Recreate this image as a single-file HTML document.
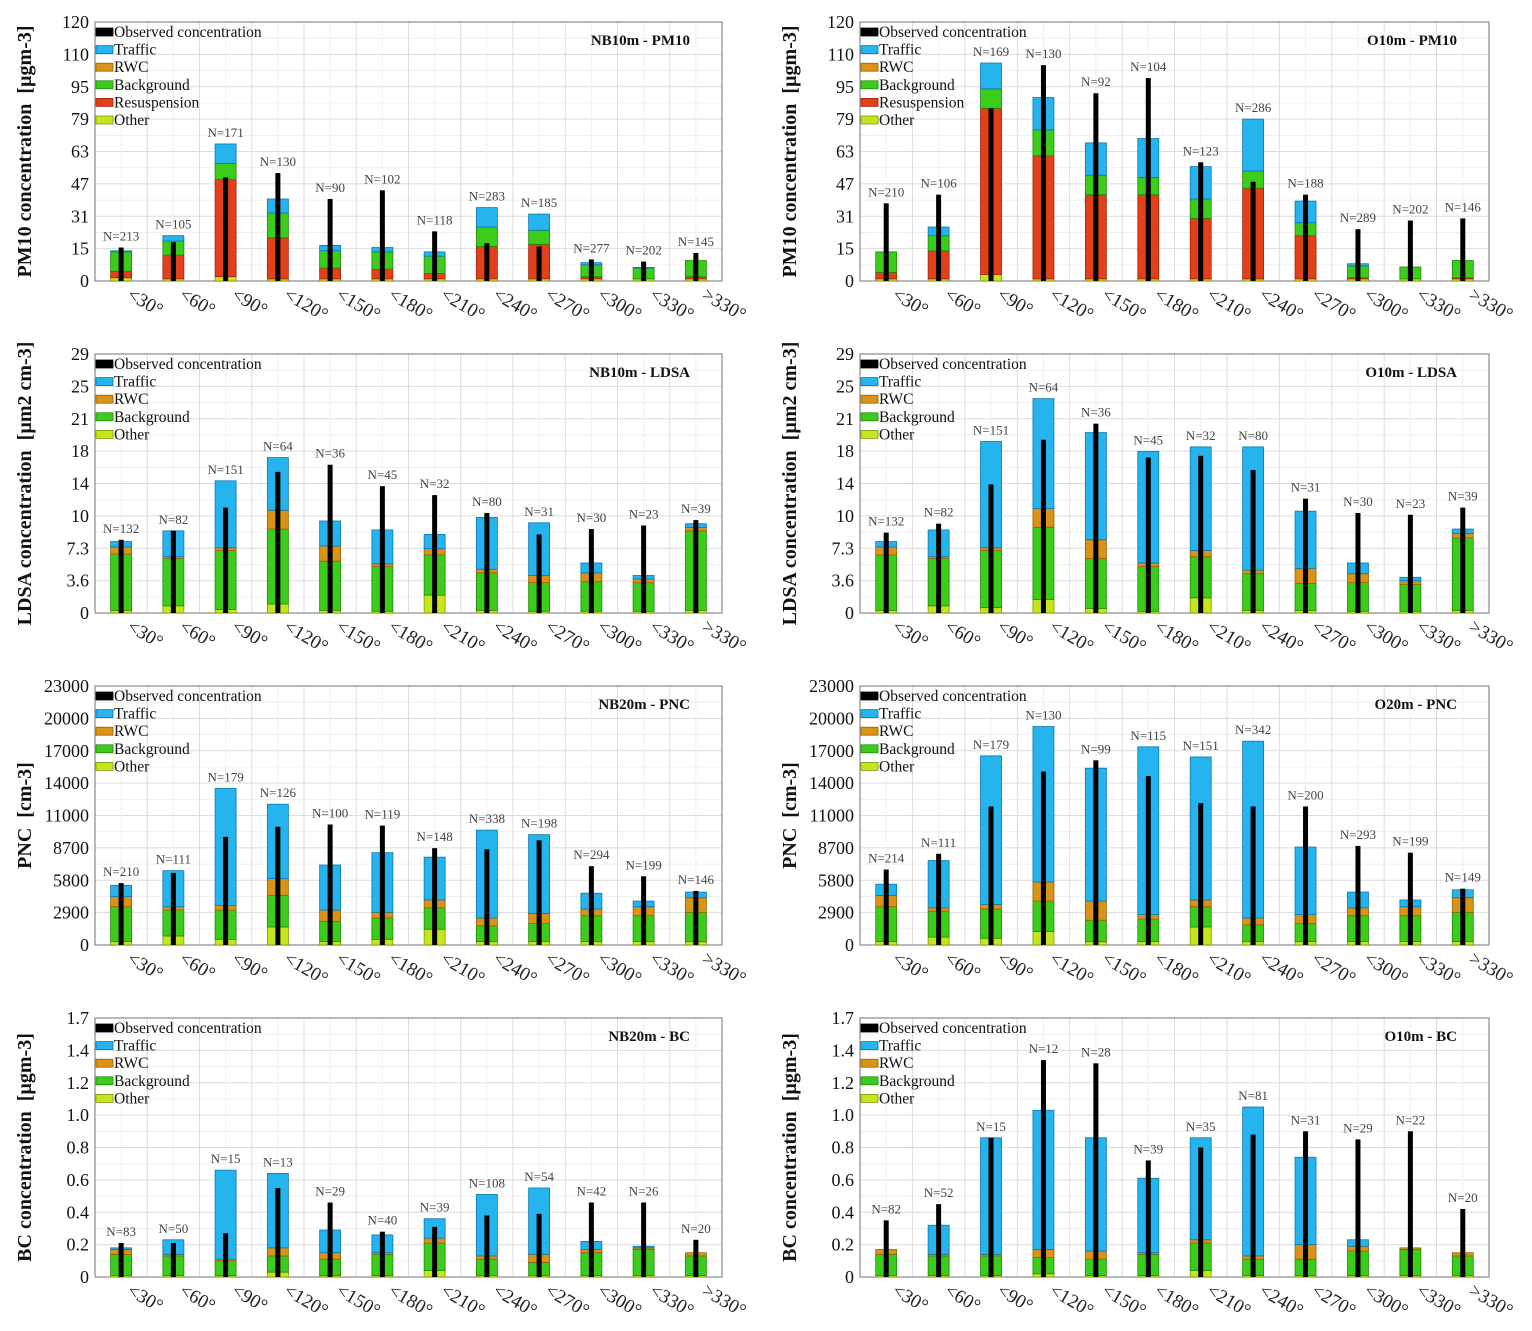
<!DOCTYPE html>
<html><head><meta charset="utf-8">
<style>
html,body{margin:0;padding:0;background:#fff;}
svg{display:block;font-family:"Liberation Serif",serif;}
</style></head>
<body>
<svg id="fig" width="1532" height="1331" viewBox="0 0 1532 1331" xmlns="http://www.w3.org/2000/svg"></svg>
<script>
const categories = ["<30°","<60°","<90°","<120°","<150°","<180°","<210°","<240°","<270°","<300°","<330°",">330°"];

// Panel 1: NB10m - PM10
const p1_ticks = ["0","15","31","47","63","79","95","110","120"];
const p1_N = [213,105,171,130,90,102,118,283,185,277,202,145];
const p1_other = [1.5,1,2,1,1,1,1,1,1,1,1,1];
const p1_resusp = [3,11,45,19,5,4.5,2.5,15,16,1,0,1];
const p1_bg = [9,6.5,7.5,11.5,8,8,8,9,6.5,5.5,5,7.5];
const p1_rwc = [0,0,0,0,0,0,0,0,0,0,0,0];
const p1_traffic = [0.5,2.5,9,6.5,2.5,2,2,9,7.5,1,0.3,0];
const p1_obs = [15.5,18,48,50,38,42,23,17.5,16,10,9,13];

// Panel 2: O10m - PM10
const p2_ticks = ["0","15","31","47","63","79","95","110","120"];
const p2_N = [210,106,169,130,92,104,123,286,188,289,202,146];
const p2_other = [1,1,3,1,1,1,1,1,1,1,1,1];
const p2_resusp = [3,13,77,57,39,39,28,42,20,0.5,0,0.5];
const p2_bg = [9.5,7,9,12,9,8,9,8,6,5.5,5.5,8];
const p2_rwc = [0,0,0,0,0,0,0,0,0,0,0,0];
const p2_traffic = [0,4,12,15,15,18,15,24,10,1,0,0];
const p2_obs = [36,40,80,100,87,94,55,46,40,24,28,29];

// Panel 3: NB10m - LDSA
const p3_ticks = ["0","3.6","7.3","10","14","18","21","25","29"];
const p3_N = [132,82,151,64,36,45,32,80,31,30,23,39];
const p3_other = [0.3,0.8,0.4,1,0.3,0.2,2,0.3,0.2,0.2,0.2,0.3];
const p3_bg = [6.3,5.3,6.6,8.4,5.5,5,4.5,4.2,3.2,3.3,3.2,8.9];
const p3_rwc = [0.8,0.2,0.3,2.1,1.7,0.3,0.7,0.4,0.8,1,0.4,0.4];
const p3_traffic = [0.6,2.9,7.5,5.9,2.8,3.8,1.6,5.8,5.9,1.1,0.4,0.4];
const p3_obs = [8.2,9.2,11.8,15.8,16.6,14.2,13.2,11.2,8.8,9.4,9.8,10.4];

// Panel 4: O10m - LDSA
const p4_ticks = ["0","3.6","7.3","10","14","18","21","25","29"];
const p4_N = [132,82,151,64,36,45,32,80,31,30,23,39];
const p4_other = [0.3,0.8,0.6,1.5,0.5,0.2,1.7,0.3,0.3,0.2,0.2,0.3];
const p4_bg = [6.2,5.3,6.4,8.1,5.6,5,4.6,4.1,3,3.2,3,8.1];
const p4_rwc = [0.9,0.2,0.3,2.1,2.1,0.4,0.7,0.4,1.7,1,0.4,0.5];
const p4_traffic = [0.6,3,11.9,12.3,12,12.5,11.6,13.8,6.4,1.2,0.4,0.5];
const p4_obs = [9,10,14.4,19.4,21.2,17.4,17.6,16,12.8,11.2,11,11.8];

// Panel 5: NB20m - PNC
const p5_ticks = ["0","2900","5800","8700","11000","14000","17000","20000","23000"];
const p5_N = [210,111,179,126,100,119,148,338,198,294,199,146];
const p5_other = [300,800,500,1600,300,500,1400,300,300,300,300,300];
const p5_bg = [3100,2300,2600,2800,1800,1900,1900,1400,1600,2300,2300,2600];
const p5_rwc = [900,300,400,1500,1000,500,700,700,900,600,800,1300];
const p5_traffic = [1000,3200,10400,6600,4000,5300,3800,7800,7000,1400,500,500];
const p5_obs = [5500,6400,9600,10500,10700,10600,8600,8500,9300,7000,6100,4800];

// Panel 6: O20m - PNC
const p6_ticks = ["0","2900","5800","8700","11000","14000","17000","20000","23000"];
const p6_N = [214,111,179,130,99,115,151,342,200,293,199,149];
const p6_other = [300,700,600,1200,300,300,1600,300,300,300,300,300];
const p6_bg = [3100,2300,2600,2700,1900,2000,1800,1500,1600,2300,2300,2600];
const p6_rwc = [1000,300,400,1700,1700,400,600,600,800,700,800,1300];
const p6_traffic = [1000,4200,13200,13800,11800,14900,12700,15700,6000,1400,600,700];
const p6_obs = [6700,8100,12300,15400,16400,15000,12600,12300,12300,8800,8200,5000];

// Panel 7: NB20m - BC
const p7_ticks = ["0","0.2","0.4","0.6","0.8","1.0","1.2","1.4","1.7"];
const p7_N = [83,50,15,13,29,40,39,108,54,42,26,20];
const p7_other = [0.01,0.01,0.01,0.03,0.01,0.01,0.04,0.01,0.01,0.01,0.01,0.01];
const p7_bg = [0.13,0.12,0.09,0.1,0.1,0.13,0.17,0.1,0.08,0.14,0.16,0.12];
const p7_rwc = [0.03,0.01,0.01,0.05,0.04,0.01,0.03,0.02,0.05,0.02,0.01,0.02];
const p7_traffic = [0.01,0.09,0.55,0.46,0.14,0.11,0.12,0.38,0.41,0.05,0.01,0];
const p7_obs = [0.21,0.21,0.27,0.55,0.46,0.28,0.31,0.38,0.39,0.46,0.46,0.23];

// Panel 8: O10m - BC
const p8_ticks = ["0","0.2","0.4","0.6","0.8","1.0","1.2","1.4","1.7"];
const p8_N = [82,52,15,12,28,39,35,81,31,29,22,20];
const p8_other = [0.01,0.01,0.01,0.02,0.01,0.01,0.04,0.01,0.01,0.01,0.01,0.01];
const p8_bg = [0.13,0.12,0.12,0.1,0.1,0.13,0.17,0.1,0.1,0.15,0.16,0.12];
const p8_rwc = [0.03,0.01,0.01,0.05,0.05,0.01,0.02,0.02,0.09,0.03,0.01,0.02];
const p8_traffic = [0,0.18,0.72,0.86,0.7,0.46,0.63,0.92,0.54,0.04,0,0];
const p8_obs = [0.35,0.45,0.86,1.34,1.32,0.72,0.8,0.88,0.9,0.85,0.9,0.42];

const NS = "http://www.w3.org/2000/svg";
const svg = document.getElementById("fig");
function mk(tag, attrs, parent){
  const e = document.createElementNS(NS, tag);
  for (const k in attrs) e.setAttribute(k, attrs[k]);
  (parent||svg).appendChild(e);
  return e;
}
const COL = {other:["#c6e61c","#7c9a0a"], resusp:["#e2401a","#a52208"], bg:["#3ccc1c","#1f8a0a"], rwc:["#d99316","#9a6206"], traffic:["#26b4ee","#0a78b0"]};

const panels = [
 {id:"p1",title:"NB10m - PM10",ylab:"PM10 concentration\u00a0\u00a0[µgm-3]",max:120,ticks:p1_ticks,N:p1_N,obs:p1_obs,stack:[["other",p1_other],["resusp",p1_resusp],["bg",p1_bg],["rwc",p1_rwc],["traffic",p1_traffic]],resusp:true,col:0,row:0},
 {id:"p2",title:"O10m - PM10",ylab:"PM10 concentration\u00a0\u00a0[µgm-3]",max:120,ticks:p2_ticks,N:p2_N,obs:p2_obs,stack:[["other",p2_other],["resusp",p2_resusp],["bg",p2_bg],["rwc",p2_rwc],["traffic",p2_traffic]],resusp:true,col:1,row:0},
 {id:"p3",title:"NB10m - LDSA",ylab:"LDSA concentration\u00a0\u00a0[µm2 cm-3]",max:29,ticks:p3_ticks,N:p3_N,obs:p3_obs,stack:[["other",p3_other],["bg",p3_bg],["rwc",p3_rwc],["traffic",p3_traffic]],resusp:false,col:0,row:1},
 {id:"p4",title:"O10m - LDSA",ylab:"LDSA concentration\u00a0\u00a0[µm2 cm-3]",max:29,ticks:p4_ticks,N:p4_N,obs:p4_obs,stack:[["other",p4_other],["bg",p4_bg],["rwc",p4_rwc],["traffic",p4_traffic]],resusp:false,col:1,row:1},
 {id:"p5",title:"NB20m - PNC",ylab:"PNC\u00a0\u00a0[cm-3]",max:23000,ticks:p5_ticks,N:p5_N,obs:p5_obs,stack:[["other",p5_other],["bg",p5_bg],["rwc",p5_rwc],["traffic",p5_traffic]],resusp:false,col:0,row:2},
 {id:"p6",title:"O20m - PNC",ylab:"PNC\u00a0\u00a0[cm-3]",max:23000,ticks:p6_ticks,N:p6_N,obs:p6_obs,stack:[["other",p6_other],["bg",p6_bg],["rwc",p6_rwc],["traffic",p6_traffic]],resusp:false,col:1,row:2},
 {id:"p7",title:"NB20m - BC",ylab:"BC concentration\u00a0\u00a0[µgm-3]",max:1.6,ticks:p7_ticks,N:p7_N,obs:p7_obs,stack:[["other",p7_other],["bg",p7_bg],["rwc",p7_rwc],["traffic",p7_traffic]],resusp:false,col:0,row:3},
 {id:"p8",title:"O10m - BC",ylab:"BC concentration\u00a0\u00a0[µgm-3]",max:1.6,ticks:p8_ticks,N:p8_N,obs:p8_obs,stack:[["other",p8_other],["bg",p8_bg],["rwc",p8_rwc],["traffic",p8_traffic]],resusp:false,col:1,row:3}
];

panels.forEach(p=>{
  const L = p.col===0 ? 95 : 860, R = p.col===0 ? 722 : 1489;
  const T = 22 + p.row*332, B = T + 259;
  const g = mk("g",{});
  
  
  const bw = (R-L)/categories.length;
  const xc = i => L + bw*(i+0.5);
  const y = v => B - v/p.max*(B-T);
  for(let k=0;k<=16;k++){
    const gy = B - (B-T)*k/16;
    mk("line",{x1:L,x2:R,y1:gy,y2:gy,stroke:k%2?"#efefef":"#dcdcdc","stroke-width":1},g);
  }
  for(let i=0;i<=categories.length*2;i++){
    const gx = L + bw*i/2;
    mk("line",{x1:gx,x2:gx,y1:T,y2:B,stroke:i%2?"#f0f0f0":"#dcdcdc","stroke-width":1},g);
  }
  mk("rect",{x:L,y:T,width:R-L,height:B-T,fill:"none",stroke:"#888","stroke-width":1.2},g);
  p.ticks.forEach((t,k)=>{
    const ty = B - (B-T)*k/(p.ticks.length-1);
    const tx = mk("text",{x:L-6,y:ty+6,"text-anchor":"end","font-size":18,fill:"#111"},g);
    tx.textContent = t;
    
    
  });
  const yt = mk("text",{x:0,y:0,transform:`translate(${L-64},${(T+B)/2}) rotate(-90)`,"text-anchor":"middle","font-size":20,"font-weight":"bold",fill:"#111"},g);
  yt.textContent = p.ylab;
  
  
  categories.forEach((c,i)=>{
    let acc = 0;
    p.stack.forEach(([key,arr])=>{
      const v = arr[i];
      if(v<=0){return;}
      const r = mk("rect",{x:xc(i)-10.5,y:y(acc+v),width:21,height:y(acc)-y(acc+v),fill:COL[key][0],stroke:COL[key][1],"stroke-width":0.8},g);
      
      
      acc += v;
    });
    const o = mk("rect",{x:xc(i)-2.5,y:y(p.obs[i]),width:5,height:B-y(p.obs[i]),fill:"#000"},g);
    
    
    const top = Math.max(acc, p.obs[i]);
    const nt = mk("text",{x:xc(i),y:y(top)-7,"text-anchor":"middle","font-size":13,fill:"#444"},g);
    nt.textContent = "N="+p.N[i];
    
    
    const xl = mk("text",{x:0,y:0,transform:`translate(${xc(i)+5},${B+17}) rotate(30)`,"font-size":19,fill:"#222"},g);
    xl.textContent = c;
    
    
  });
  const tt = mk("text",{x:R-32,y:T+23,"text-anchor":"end","font-size":15,"font-weight":"bold",fill:"#111"},g);
  tt.textContent = p.title;
  
  
  const items = [["Observed concentration","#000","#000"],["Traffic",COL.traffic[0],COL.traffic[1]],["RWC",COL.rwc[0],COL.rwc[1]],["Background",COL.bg[0],COL.bg[1]]];
  if(p.resusp) items.push(["Resuspension",COL.resusp[0],COL.resusp[1]]);
  items.push(["Other",COL.other[0],COL.other[1]]);
  items.forEach((it,k)=>{
    const ly = T + 10 + k*17.6;
    const sw = mk("rect",{x:L+1,y:ly-4,width:17,height:8,fill:it[1],stroke:it[2],"stroke-width":0.8},g);
    
    
    const lt = mk("text",{x:L+19,y:ly+5,"font-size":15.5,fill:"#111"},g);
    lt.textContent = it[0];
    
    
  });
});
</script>
</body></html>
